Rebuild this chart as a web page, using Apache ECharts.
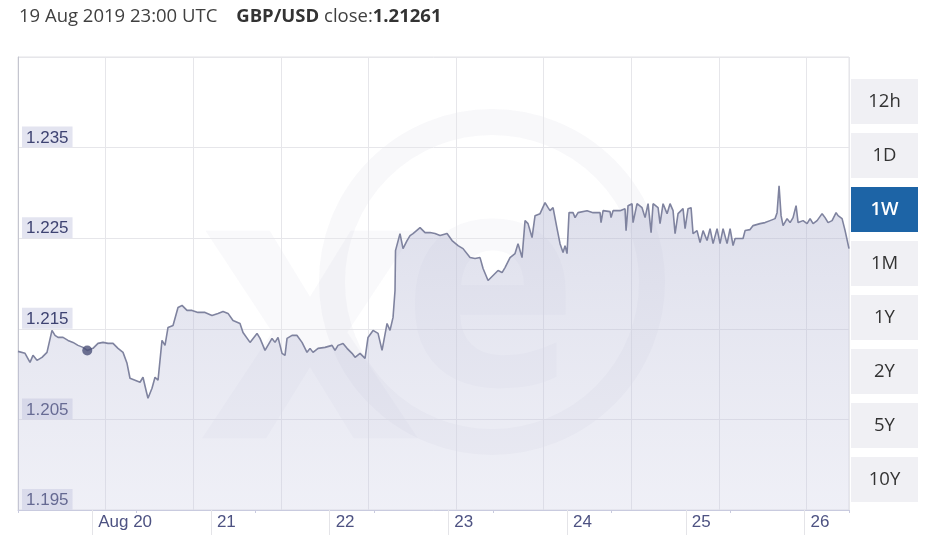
<!DOCTYPE html>
<html>
<head>
<meta charset="utf-8">
<script src="https://cdn.jsdelivr.net/npm/echarts@6/dist/echarts.min.js"></script>
<style>
html,body{margin:0;padding:0;background:#fff;}
#chart{width:945px;height:547px;}
</style>
</head>
<body>
<div id="chart"></div>
<script>
// Hours since 19 Aug 2019 09:00 UTC
const hours = [0.0,1.42,2.43,3.03,3.84,4.85,5.86,6.87,7.48,8.09,9.10,10.11,11.12,12.13,13.14,14.0,15.16,16.17,17.19,18.20,19.21,20.22,21.23,22.04,22.64,23.66,24.67,25.27,25.88,26.28,27.09,27.70,28.31,29.11,29.72,30.33,31.34,32.35,33.16,34.17,35.18,36.39,37.81,39.22,40.44,41.45,42.46,43.47,44.88,45.49,46.91,48.32,48.93,49.94,51.35,51.96,52.57,53.38,53.98,54.39,55.40,56.41,57.42,58.43,59.04,59.64,60.66,62.07,63.49,64.09,64.70,65.71,66.52,67.53,68.14,69.15,70.16,70.76,71.78,72.79,73.60,74.61,75.21,75.82,76.22,76.32,77.23,77.84,78.65,79.26,79.86,81.28,82.29,83.30,84.31,85.32,86.74,87.75,88.96,89.97,91.39,92.40,93.41,94.02,95.03,96.04,97.05,97.86,98.46,99.47,100.48,101.09,101.90,102.51,103.11,103.92,104.53,105.54,106.55,107.16,107.56,108.17,108.98,109.58,110.19,110.59,111.00,111.40,112.21,112.62,113.22,115.04,116.26,117.67,117.87,118.28,119.69,119.89,120.30,121.71,122.72,122.93,123.33,124.14,124.34,125.15,126.16,126.77,127.38,127.99,128.39,129.40,129.80,130.41,131.22,131.82,132.43,132.84,133.44,134.45,134.86,135.46,136.07,136.47,137.28,137.89,138.50,139.30,139.91,140.52,141.33,141.93,142.54,143.35,143.96,144.56,144.97,146.58,146.99,148.00,148.61,150.02,151.03,152.04,153.05,153.46,153.86,154.27,154.67,155.48,156.09,156.69,157.30,157.71,158.72,159.52,160.13,160.74,161.55,162.56,163.16,163.77,164.58,165.39,165.79,166.60,167.21,168.0];
const rates = [1.21251,1.21229,1.21130,1.21207,1.21152,1.21185,1.21240,1.21482,1.21427,1.21405,1.21405,1.21372,1.21350,1.21317,1.21295,1.21261,1.21284,1.21339,1.21350,1.21339,1.21339,1.21284,1.21240,1.21119,1.20954,1.20932,1.20910,1.20965,1.20822,1.20733,1.20844,1.20965,1.20932,1.21372,1.21317,1.21515,1.21537,1.21736,1.21758,1.21703,1.21703,1.21681,1.21681,1.21648,1.21670,1.21692,1.21670,1.21592,1.21559,1.21460,1.21350,1.21449,1.21394,1.21262,1.21394,1.21350,1.21405,1.21229,1.21207,1.21394,1.21427,1.21427,1.21350,1.21240,1.21284,1.21240,1.21284,1.21295,1.21317,1.21262,1.21317,1.21339,1.21284,1.21229,1.21185,1.21229,1.21174,1.21405,1.21482,1.21449,1.21262,1.21559,1.21482,1.21626,1.21923,1.22363,1.22551,1.22385,1.22474,1.22529,1.22551,1.22617,1.22562,1.22562,1.22551,1.22529,1.22551,1.22474,1.22418,1.22385,1.22286,1.22275,1.22286,1.22165,1.22033,1.22088,1.22143,1.22121,1.22176,1.22286,1.22330,1.22440,1.22286,1.22694,1.22661,1.22507,1.22749,1.22771,1.22892,1.22837,1.22804,1.22837,1.22606,1.22440,1.22341,1.22418,1.22330,1.22782,1.22782,1.22727,1.22782,1.22804,1.22782,1.22782,1.22672,1.22804,1.22793,1.22727,1.22804,1.22804,1.22826,1.22584,1.22859,1.22881,1.22672,1.22881,1.22837,1.22727,1.22881,1.22562,1.22881,1.22837,1.22661,1.22881,1.22771,1.22881,1.22804,1.22551,1.22771,1.22826,1.22606,1.22826,1.22837,1.22551,1.22584,1.22451,1.22584,1.22474,1.22606,1.22440,1.22606,1.22440,1.22606,1.22440,1.22606,1.22418,1.22496,1.22496,1.22584,1.22595,1.22639,1.22661,1.22672,1.22694,1.22716,1.22782,1.23079,1.22749,1.22639,1.22716,1.22672,1.22727,1.22859,1.22672,1.22694,1.22661,1.22716,1.22661,1.22694,1.22771,1.22727,1.22672,1.22694,1.22782,1.22749,1.22716,1.22584,1.22385];
// Day boundaries (hours since start) and their labels
const dayTicks = [15, 39, 63, 87, 111, 135, 159];
const dayLabels = ['Aug 20', '21', '22', '23', '24', '25', '26'];
const yTicks = {min: 1.195, max: 1.245, step: 0.01};
const hover = {hour: 14.0, rate: 1.21261, time: '19 Aug 2019 23:00 UTC', pair: 'GBP/USD'};
const ranges = ['12h', '1D', '1W', '1M', '1Y', '2Y', '5Y', '10Y'];
const activeRange = '1W';

const chart = echarts.init(document.getElementById('chart'), null, {renderer: 'canvas'});

const seriesData = hours.map((h, i) => [h, rates[i]]);

const buttons = [];
ranges.forEach((r, i) => {
  const active = r === activeRange;
  buttons.push({
    type: 'rect', z: 10,
    shape: {x: 851, y: 79 + i * 54, width: 67, height: 45},
    style: {fill: active ? '#1d64a6' : '#f0f0f4'}
  });
  buttons.push({
    type: 'text', z: 11,
    x: 884.5, y: 79 + i * 54 + 23,
    style: {
      text: r, fill: active ? '#ffffff' : '#333333',
      font: (active ? '600 ' : '400 ') + '18.5px "Open Sans"',
      align: 'center', verticalAlign: 'middle'
    }
  });
});

const option = {
  animation: false,
  backgroundColor: '#ffffff',
  grid: {left: 18, right: 96, top: 57, bottom: 37, show: true, borderColor: '#e2e2e6', borderWidth: 1},
  graphic: [
    // xe watermark
    {type: 'circle', z: 0, shape: {cx: 492, cy: 282, r: 160},
     style: {fill: null, stroke: 'rgba(60,62,120,0.035)', lineWidth: 26}},
    {type: 'text', z: 0, x: 310, y: 330,
     style: {text: 'x', font: 'bold 380px "Open Sans"', fill: 'rgba(60,62,120,0.032)', align: 'center', verticalAlign: 'middle'}},
    {type: 'text', z: 0, x: 490, y: 300,
     style: {text: 'e', font: 'bold 300px "Open Sans"', fill: 'rgba(60,62,120,0.032)', align: 'center', verticalAlign: 'middle'}},
    // header
    {type: 'text', z: 10, x: 19, y: 17,
     style: {
       text: '{a|' + hover.time + '}{g|}{b|' + hover.pair + '}{a| close:}{b|' + hover.rate.toFixed(5) + '}',
       verticalAlign: 'middle',
       rich: {
         a: {font: '400 18.5px "Open Sans"', fill: '#404040', color: '#404040'},
         b: {font: '700 18.5px "Open Sans"', fill: '#333333', color: '#333333'},
         g: {width: 19}
       }
     }}
  ].concat(buttons),
  xAxis: [
    {
      type: 'value', min: 0, max: 168, position: 'bottom',
      axisLine: {show: true, lineStyle: {color: '#c9cbdf', width: 1}},
      axisTick: {show: true, customValues: dayTicks, length: 25, lineStyle: {color: '#e4e4e8'}},
      axisLabel: {
        show: true, customValues: dayTicks, align: 'left', margin: 4,
        padding: [0, 0, 0, 6],
        fontFamily: '"Liberation Sans", Arial, sans-serif', fontSize: 17, color: '#4d5282',
        formatter: v => { const i = dayTicks.indexOf(v); return i >= 0 ? dayLabels[i] : ''; }
      },
      splitLine: {show: false}
    },
    {
      type: 'value', min: 0, max: 168 / 17.712, interval: 1, position: 'bottom',
      axisLine: {show: false}, axisTick: {show: false}, axisLabel: {show: false},
      splitLine: {show: true, lineStyle: {color: '#e6e6ea', width: 1}}
    },
    {
      type: 'value', min: 0, max: 168, interval: 24, position: 'bottom',
      axisLine: {show: false}, axisLabel: {show: false},
      axisTick: {show: true, length: 3, lineStyle: {color: '#c9cbdf'}},
      splitLine: {show: false}
    }
  ],
  yAxis: {
    type: 'value', min: yTicks.min, max: yTicks.max, interval: yTicks.step,
    axisLine: {show: true, lineStyle: {color: '#c4c5cf'}},
    axisTick: {show: false},
    splitLine: {show: true, lineStyle: {color: '#e6e6ea'}},
    axisLabel: {
      inside: true, margin: 4, showMaxLabel: false,
      verticalAlign: 'bottom',
      backgroundColor: '#e3e4f0', padding: [3, 4, 1, 4],
      fontFamily: '"Liberation Sans", Arial, sans-serif', fontSize: 17, color: '#3e4372',
      formatter: v => v.toFixed(3)
    }
  },
  series: [
    {
      type: 'line', xAxisIndex: 0, data: seriesData, showSymbol: false, z: 3,
      lineStyle: {color: '#7f839f', width: 1.6},
      areaStyle: {
        color: new echarts.graphic.LinearGradient(0, 0, 0, 1, [
          {offset: 0, color: 'rgba(172,175,206,0.58)'},
          {offset: 1, color: 'rgba(198,200,225,0.40)'}
        ])
      }
    },
    {
      type: 'scatter', xAxisIndex: 0, data: [[hover.hour, hover.rate]], z: 5,
      symbolSize: 10, itemStyle: {color: '#4b5078'}
    }
  ]
};
chart.setOption(option);
</script>
</body>
</html>
